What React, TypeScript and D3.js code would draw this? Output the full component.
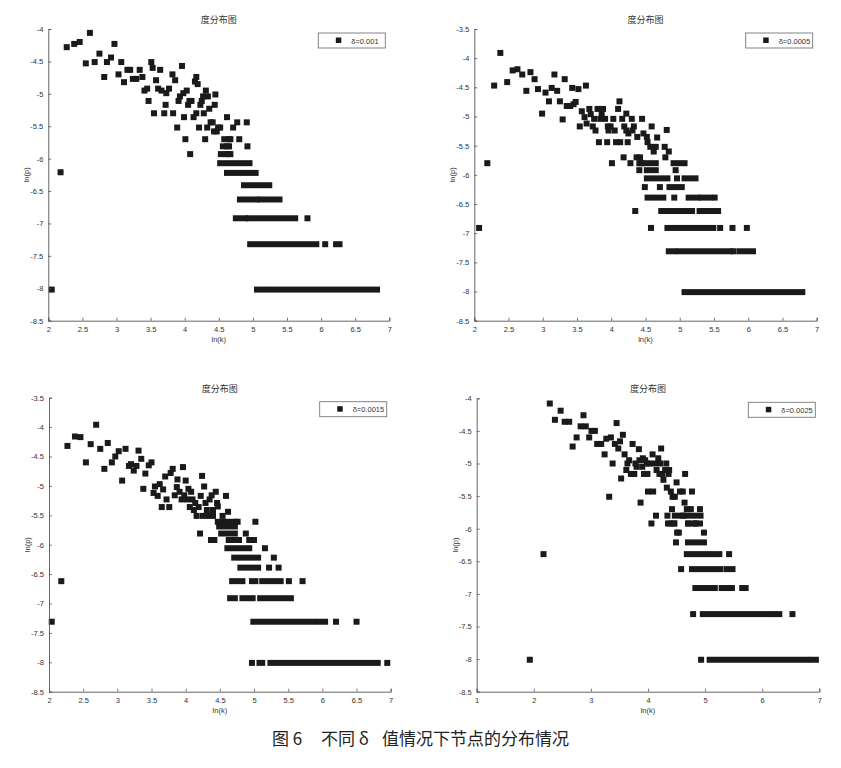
import * as d3 from "d3";
import { useEffect, useRef } from "react";

type Pt = [number, number];
type Run = [number, number, number]; // x0, x1, y : dense row of markers

// delta = 0.001
const p1Points: Pt[] = [
  [2.05, -8.02], [2.18, -6.21], [2.27, -4.28], [2.38, -4.23], [2.46, -4.2], [2.55, -4.53], [2.61, -4.06],
  [2.68, -4.51], [2.75, -4.38], [2.82, -4.74], [2.86, -4.51], [2.92, -4.44], [2.97, -4.23], [3.03, -4.7],
  [3.07, -4.51], [3.11, -4.82], [3.16, -4.63], [3.2, -4.63], [3.24, -4.77], [3.29, -4.77], [3.34, -4.63],
  [3.38, -4.74], [3.41, -4.95], [3.45, -4.92], [3.47, -5.11], [3.51, -4.51], [3.53, -4.6], [3.55, -5.3],
  [3.58, -4.79], [3.61, -4.92], [3.64, -4.63], [3.66, -4.95], [3.7, -5.3], [3.72, -5.17], [3.73, -4.99],
  [3.77, -4.92], [3.82, -4.7], [3.83, -5.3], [3.86, -4.79], [3.89, -5.52], [3.91, -5.11], [3.93, -5.04],
  [3.96, -4.57], [3.98, -4.99], [3.99, -5.36], [4.01, -5.7], [4.03, -4.95], [4.05, -5.17], [4.07, -5.11],
  [4.08, -5.93], [4.1, -5.11], [4.13, -5.36], [4.15, -4.81], [4.17, -4.74], [4.17, -5.3], [4.19, -4.85],
  [4.21, -5.52], [4.23, -5.17], [4.25, -5.11], [4.27, -5.04], [4.28, -5.3], [4.3, -5.7], [4.31, -4.95],
  [4.33, -5.52], [4.34, -5.04], [4.36, -5.23], [4.38, -5.44], [4.41, -5.44], [4.43, -5.58], [4.44, -5.17],
  [4.45, -5.01], [4.47, -5.58], [4.49, -5.52], [4.52, -5.52], [4.53, -5.93], [4.56, -5.81], [4.58, -5.7],
  [4.6, -5.93], [4.62, -5.36], [4.62, -5.81], [4.63, -5.93], [4.65, -5.7], [4.65, -5.81], [4.67, -5.93],
  [4.67, -5.7], [4.71, -5.52], [4.77, -5.44], [4.8, -5.7], [4.91, -5.44], [4.92, -5.81], [5.8, -6.92],
  [6.06, -7.32],
];
const p1Runs: Run[] = [
  [4.52, 4.95, -6.07], [4.62, 5.04, -6.22], [4.87, 5.24, -6.41], [4.81, 5.05, -6.63], [5.11, 5.39, -6.63],
  [4.75, 4.89, -6.92], [4.94, 5.62, -6.92], [4.96, 5.93, -7.32], [6.22, 6.27, -7.32], [5.06, 5.2, -8.02],
  [5.28, 6.82, -8.02],
];

// delta = 0.0005
const p2Points: Pt[] = [
  [2.07, -6.91], [2.19, -5.8], [2.29, -4.47], [2.38, -3.91], [2.48, -4.41], [2.56, -4.21], [2.63, -4.19],
  [2.7, -4.28], [2.76, -4.56], [2.82, -4.24], [2.88, -4.36], [2.93, -4.53], [2.99, -4.95], [3.04, -4.59],
  [3.09, -4.74], [3.13, -4.51], [3.17, -4.28], [3.21, -4.56], [3.25, -4.74], [3.29, -5.05], [3.32, -4.36],
  [3.35, -4.82], [3.4, -4.82], [3.43, -4.51], [3.45, -4.79], [3.48, -4.75], [3.52, -4.53], [3.54, -5.17],
  [3.57, -4.91], [3.61, -5.01], [3.63, -4.47], [3.64, -5.12], [3.68, -4.87], [3.7, -4.96], [3.73, -5.17],
  [3.75, -5.04], [3.77, -5.24], [3.8, -4.87], [3.82, -5.44], [3.84, -5.04], [3.86, -4.96], [3.88, -4.87],
  [3.91, -5.04], [3.94, -5.44], [3.95, -5.17], [3.96, -5.24], [3.99, -5.17], [4.01, -5.8], [4.03, -5.04],
  [4.05, -5.24], [4.07, -5.44], [4.1, -4.87], [4.12, -4.74], [4.13, -5.44], [4.16, -5.04], [4.18, -5.7],
  [4.19, -5.17], [4.22, -4.95], [4.22, -5.24], [4.24, -5.44], [4.25, -5.29], [4.28, -5.8], [4.3, -5.04],
  [4.31, -5.24], [4.33, -5.17], [4.35, -6.62], [4.37, -5.7], [4.38, -5.35], [4.41, -5.92], [4.42, -5.7],
  [4.44, -5.8], [4.45, -5.04], [4.47, -5.29], [4.49, -6.21], [4.52, -5.35], [4.53, -5.44], [4.57, -5.52],
  [4.58, -6.91], [4.59, -5.17], [4.62, -5.6], [4.65, -5.52], [4.67, -5.36], [4.71, -6.21], [4.78, -5.52],
  [4.79, -5.7], [4.81, -5.23], [4.84, -5.6], [4.92, -6.39], [4.94, -5.92], [4.96, -6.06], [5.51, -6.39],
  [5.59, -6.91], [5.77, -6.91], [5.98, -6.91], [5.78, -7.31],
];
const p2Runs: Run[] = [
  [4.41, 4.65, -5.8], [4.91, 5.07, -5.8], [4.52, 4.65, -5.92], [4.52, 4.82, -6.06], [5.07, 5.23, -6.06],
  [4.85, 5.03, -6.21], [4.53, 4.58, -6.39], [4.66, 4.76, -6.39], [5.13, 5.26, -6.39], [5.32, 5.44, -6.39],
  [4.73, 5.18, -6.62], [5.29, 5.56, -6.62], [4.82, 5.49, -6.91], [4.84, 4.92, -7.31], [4.99, 5.73, -7.31],
  [5.87, 6.07, -7.31], [5.07, 6.79, -8.01],
];

// delta = 0.0015
const p3Points: Pt[] = [
  [2.04, -7.31], [2.18, -6.62], [2.27, -4.32], [2.38, -4.16], [2.46, -4.17], [2.54, -4.6], [2.61, -4.29],
  [2.69, -3.96], [2.75, -4.37], [2.81, -4.71], [2.86, -4.27], [2.92, -4.6], [2.97, -4.5], [3.02, -4.41],
  [3.07, -4.91], [3.12, -4.37], [3.17, -4.66], [3.2, -4.63], [3.24, -4.74], [3.28, -4.66], [3.31, -4.4],
  [3.35, -4.54], [3.38, -5.05], [3.41, -4.79], [3.46, -4.65], [3.5, -4.6], [3.53, -5.12], [3.55, -5.01],
  [3.59, -5.17], [3.62, -4.97], [3.65, -5.36], [3.67, -5.06], [3.7, -4.84], [3.72, -5.23], [3.76, -5.36],
  [3.78, -4.78], [3.81, -4.71], [3.84, -5.16], [3.87, -5.02], [3.88, -4.89], [3.91, -5.1], [3.94, -5.23],
  [3.96, -4.68], [3.98, -5.16], [4.0, -4.91], [4.02, -5.23], [4.04, -5.05], [4.06, -5.36], [4.08, -5.1],
  [4.1, -5.23], [4.12, -5.41], [4.14, -5.29], [4.16, -5.51], [4.19, -5.36], [4.21, -5.81], [4.22, -5.17],
  [4.24, -4.83], [4.25, -5.51], [4.27, -5.01], [4.29, -5.29], [4.31, -5.41], [4.33, -5.51], [4.35, -5.23],
  [4.37, -5.92], [4.38, -5.16], [4.4, -5.41], [4.4, -5.51], [4.42, -5.92], [4.44, -5.1], [4.46, -5.29],
  [4.47, -5.35], [4.54, -5.51], [4.59, -5.17], [4.62, -5.44], [4.76, -5.61], [4.88, -5.81], [5.02, -5.61],
  [5.16, -6.06], [5.29, -6.22], [5.22, -6.39], [5.36, -6.39], [5.51, -6.62], [5.71, -6.62], [6.2, -7.31],
  [6.5, -7.31], [4.97, -8.01], [6.95, -8.01],
];
const p3Runs: Run[] = [
  [4.47, 4.72, -5.61], [4.49, 4.72, -5.69], [4.52, 4.72, -5.81], [4.63, 4.78, -5.92], [4.93, 5.0, -5.92],
  [4.61, 4.93, -6.06], [4.71, 5.06, -6.22], [4.8, 5.06, -6.39], [4.68, 4.83, -6.62], [4.97, 5.02, -6.62],
  [5.12, 5.39, -6.62], [4.65, 4.72, -6.91], [4.83, 4.98, -6.91], [5.09, 5.54, -6.91], [4.99, 5.87, -7.31],
  [5.95, 6.04, -7.31], [5.08, 5.12, -8.01], [5.24, 6.81, -8.01],
];

// delta = 0.0025
const p4Points: Pt[] = [
  [1.93, -8.01], [2.17, -6.39], [2.28, -4.08], [2.37, -4.33], [2.47, -4.19], [2.54, -4.36], [2.62, -4.36],
  [2.68, -4.74], [2.75, -4.6], [2.82, -4.43], [2.87, -4.26], [2.91, -4.43], [2.97, -4.6], [3.01, -4.5],
  [3.07, -4.5], [3.11, -4.7], [3.18, -4.7], [3.24, -4.86], [3.27, -4.62], [3.32, -5.51], [3.35, -4.6],
  [3.38, -5.0], [3.42, -4.7], [3.45, -4.38], [3.48, -4.77], [3.51, -4.66], [3.53, -5.23], [3.56, -4.56],
  [3.59, -4.86], [3.62, -5.1], [3.64, -5.0], [3.67, -4.95], [3.7, -5.16], [3.73, -4.7], [3.76, -5.16],
  [3.78, -5.0], [3.8, -5.05], [3.84, -4.78], [3.85, -4.95], [3.87, -5.6], [3.9, -5.05], [3.91, -4.92],
  [3.93, -5.16], [3.95, -4.95], [3.98, -5.0], [3.99, -5.16], [4.0, -5.43], [4.02, -5.0], [4.06, -5.92],
  [4.08, -4.86], [4.09, -5.43], [4.11, -5.0], [4.14, -5.8], [4.15, -5.1], [4.18, -4.92], [4.2, -5.16],
  [4.21, -5.0], [4.23, -4.77], [4.25, -5.16], [4.27, -5.25], [4.3, -5.1], [4.32, -5.0], [4.33, -5.37],
  [4.34, -5.8], [4.36, -5.16], [4.37, -5.1], [4.39, -5.92], [4.4, -5.43], [4.42, -5.7], [4.43, -5.51],
  [4.46, -5.92], [4.47, -5.51], [4.49, -6.21], [4.5, -5.29], [4.51, -6.06], [4.54, -6.06], [4.56, -5.43],
  [4.58, -6.62], [4.61, -5.43], [4.62, -5.8], [4.64, -5.6], [4.65, -5.16], [4.68, -5.7], [4.71, -5.92],
  [4.75, -5.7], [4.77, -5.43], [4.79, -7.31], [4.84, -5.92], [4.91, -5.7], [4.98, -6.06], [5.42, -6.39],
  [6.53, -7.31], [4.93, -8.01],
];
const p4Runs: Run[] = [
  [4.47, 4.92, -5.8], [4.35, 4.46, -5.92], [4.7, 4.8, -5.92], [4.84, 4.91, -5.92], [4.7, 4.98, -6.21],
  [4.68, 5.25, -6.39], [4.77, 5.27, -6.62], [5.38, 5.48, -6.62], [4.83, 5.17, -6.91], [5.29, 5.47, -6.91],
  [5.65, 5.71, -6.91], [4.96, 6.15, -7.31], [6.24, 6.3, -7.31], [5.08, 6.78, -8.01], [6.87, 6.94, -8.01],
];

const xTicksA = [2, 2.5, 3, 3.5, 4, 4.5, 5, 5.5, 6, 6.5, 7];
const xTicksB = [1, 2, 3, 4, 5, 6, 7];
const yTicksA = [-4, -4.5, -5, -5.5, -6, -6.5, -7, -7.5, -8, -8.5];
const yTicksB = [-3.5, -4, -4.5, -5, -5.5, -6, -6.5, -7, -7.5, -8, -8.5];
const legendLabels = ["δ=0.001", "δ=0.0005", "δ=0.0015", "δ=0.0025"];

const TITLE = "度分布图";
const CAPTION_PARTS = ["图 6", "不同 δ", "值情况下节点的分布情况"];

type PanelCfg = {
  box: [number, number, number, number]; // left, top, right, bottom
  xDomain: [number, number];
  yDomain: [number, number];
  xTicks: number[];
  yTicks: number[];
  points: Pt[];
  runs: Run[];
  legend: string;
};

const panels: PanelCfg[] = [
  { box: [48.3, 29, 389.3, 320.7], xDomain: [2, 7], yDomain: [-8.5, -4], xTicks: xTicksA, yTicks: yTicksA, points: p1Points, runs: p1Runs, legend: legendLabels[0] },
  { box: [474.3, 29, 816.7, 320.7], xDomain: [2, 7], yDomain: [-8.5, -3.5], xTicks: xTicksA, yTicks: yTicksB, points: p2Points, runs: p2Runs, legend: legendLabels[1] },
  { box: [49, 397.7, 390.7, 691.7], xDomain: [2, 7], yDomain: [-8.5, -3.5], xTicks: xTicksA, yTicks: yTicksB, points: p3Points, runs: p3Runs, legend: legendLabels[2] },
  { box: [476.7, 398.3, 819.3, 691.7], xDomain: [1, 7], yDomain: [-8.5, -4], xTicks: xTicksB, yTicks: yTicksA, points: p4Points, runs: p4Runs, legend: legendLabels[3] },
];

const W = 841;
const H = 768;
const M = 6; // marker size
const AXIS = "#555";
const TEXT = "#333";
const MARK = "#1a1a1a";
const SANS = "'Liberation Sans', Arial, sans-serif";
const CJK = "'Noto Sans CJK SC', sans-serif";

function drawPanel(root: d3.Selection<SVGGElement, unknown, null, undefined>, cfg: PanelCfg) {
  const [l, t, r, b] = cfg.box;
  const x = d3.scaleLinear().domain(cfg.xDomain).range([l, r]);
  const y = d3.scaleLinear().domain(cfg.yDomain).range([b, t]);
  const g = root.append("g");

  // markers
  g.selectAll("rect.run")
    .data(cfg.runs)
    .join("rect")
    .attr("class", "run")
    .attr("x", (d) => x(d[0]) - M / 2)
    .attr("y", (d) => y(d[2]) - M / 2)
    .attr("width", (d) => x(d[1]) - x(d[0]) + M)
    .attr("height", M)
    .attr("fill", MARK);

  g.selectAll("rect.pt")
    .data(cfg.points)
    .join("rect")
    .attr("class", "pt")
    .attr("x", (d) => x(d[0]) - M / 2)
    .attr("y", (d) => y(d[1]) - M / 2)
    .attr("width", M)
    .attr("height", M)
    .attr("fill", MARK);

  // axes (left + bottom, ticks pointing inward)
  const xAxis = g.append("g").attr("transform", `translate(0,${b})`)
    .call(d3.axisBottom(x).tickValues(cfg.xTicks).tickSize(-3).tickPadding(6).tickFormat((d) => String(d)));
  const yAxis = g.append("g").attr("transform", `translate(${l},0)`)
    .call(d3.axisLeft(y).tickValues(cfg.yTicks).tickSize(-3).tickPadding(5).tickFormat((d) => String(d)));
  for (const ax of [xAxis, yAxis]) {
    ax.select(".domain").attr("stroke", AXIS).attr("stroke-width", 0.9);
    ax.selectAll(".tick line").attr("stroke", AXIS).attr("stroke-width", 0.8);
    ax.selectAll(".tick text").attr("fill", TEXT).attr("font-size", 7.5).attr("font-family", SANS);
  }

  const cx = (l + r) / 2;
  g.append("text")
    .attr("x", cx)
    .attr("y", t - 6)
    .attr("text-anchor", "middle")
    .attr("font-size", 9)
    .attr("font-family", CJK)
    .attr("fill", TEXT)
    .text(TITLE);

  g.append("text")
    .attr("x", cx)
    .attr("y", b + 21)
    .attr("text-anchor", "middle")
    .attr("font-size", 7.5)
    .attr("font-family", SANS)
    .attr("fill", TEXT)
    .text("ln(k)");

  g.append("text")
    .attr("transform", `translate(${l - 19},${(t + b) / 2}) rotate(-90)`)
    .attr("text-anchor", "middle")
    .attr("font-size", 7.5)
    .attr("font-family", SANS)
    .attr("fill", TEXT)
    .text("ln(p)");

  // legend
  const lw = 67;
  const lh = 15;
  const lx = r - 4 - lw;
  const ly = t + 4;
  const leg = g.append("g");
  leg.append("rect")
    .attr("x", lx)
    .attr("y", ly)
    .attr("width", lw)
    .attr("height", lh)
    .attr("fill", "#fff")
    .attr("stroke", "#777")
    .attr("stroke-width", 0.9);
  leg.append("rect")
    .attr("x", lx + 17.5)
    .attr("y", ly + lh / 2 - 3)
    .attr("width", 5.5)
    .attr("height", 5.5)
    .attr("fill", MARK);
  leg.append("text")
    .attr("x", lx + 33)
    .attr("y", ly + lh / 2 + 3)
    .attr("font-size", 7.5)
    .attr("font-family", SANS)
    .attr("fill", TEXT)
    .text(cfg.legend);
}

export default function App() {
  const ref = useRef<SVGSVGElement>(null);

  useEffect(() => {
    if (!ref.current) return;
    const svg = d3.select(ref.current);
    svg.selectAll("*").remove();
    const root = svg.append("g");
    panels.forEach((p) => drawPanel(root, p));

    // caption, laid out in three pieces like the printed figure
    const capX = [272, 321, 382];
    const cap = root.append("g")
      .attr("font-family", CJK)
      .attr("font-size", 17)
      .attr("fill", "#222");
    CAPTION_PARTS.forEach((s, i) => {
      cap.append("text").attr("x", capX[i]).attr("y", 745).text(s);
    });
  }, []);

  return (
    <svg
      ref={ref}
      width={W}
      height={H}
      style={{ position: "absolute", left: 0, top: 0, background: "#fff" }}
    />
  );
}
